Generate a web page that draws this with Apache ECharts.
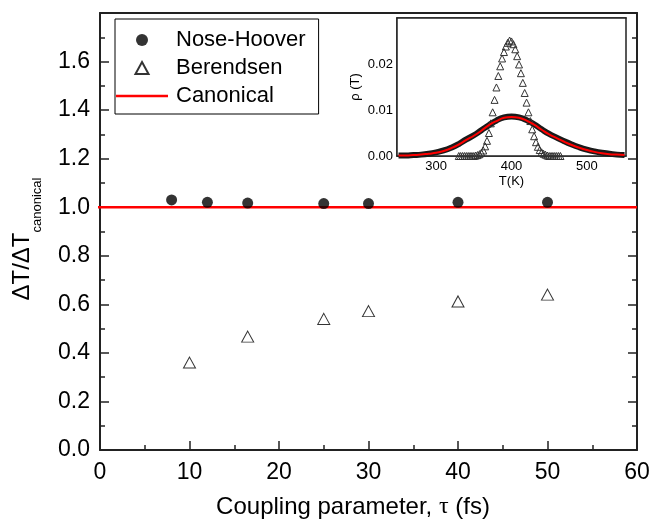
<!DOCTYPE html>
<html>
<head>
<meta charset="utf-8" />
<title>Coupling parameter</title>
<script src="https://cdn.jsdelivr.net/npm/echarts@6/dist/echarts.min.js"></script>
<style>
  html, body { margin: 0; padding: 0; background: #fff; }
  #main { width: 652px; height: 519px; }
</style>
</head>
<body>
<div id="main"></div>
<script>
// main panel: ratio of temperature fluctuation vs coupling time
var tauNH = [8, 12, 16.5, 25, 30, 40, 50];
var ratioNH = [1.03, 1.02, 1.017, 1.015, 1.015, 1.02, 1.02];
var tauBer = [10, 16.5, 25, 30, 40, 50];
var ratioBer = [0.36, 0.467, 0.54, 0.572, 0.612, 0.64];
var canonTau = [-1, 60];
var canonRatio = [1, 1];

// inset: temperature distributions
var tempK = [250, 260, 270, 280, 290, 300, 310, 320, 330, 340, 350, 360, 370, 380, 390, 400,
  410, 420, 430, 440, 450, 460, 470, 480, 490, 500, 510, 520, 530, 540, 550];
var rhoCanon = [0.0001, 0.0001, 0.0002, 0.0003, 0.0005, 0.0007, 0.0011, 0.0017, 0.0025, 0.0035,
  0.0044, 0.0055, 0.0067, 0.0076, 0.0083, 0.0085, 0.0083, 0.0077, 0.0068, 0.0057,
  0.0047, 0.0039, 0.0031, 0.0024, 0.0018, 0.0013, 0.0009, 0.0006, 0.0004, 0.0003, 0.0002];
var rhoNH = [0.0001, 0.0001, 0.0002, 0.0003, 0.0005, 0.0008, 0.0012, 0.0018, 0.0026, 0.0036,
  0.0045, 0.0056, 0.0067, 0.0077, 0.0084, 0.0086, 0.0084, 0.0078, 0.0069, 0.0058,
  0.0048, 0.0040, 0.0032, 0.0025, 0.0019, 0.0014, 0.0010, 0.0007, 0.0005, 0.0003, 0.0002];
var tempBer = [330, 332.5, 335, 337.5, 340, 342.5, 345, 347.5, 350, 352.5, 355, 357.5, 360,
  362.5, 365, 367.5, 370, 372.5, 375, 377.5, 380, 382.5, 385, 387.5, 390, 392.5, 395, 397.5,
  400, 402.5, 405, 407.5, 410, 412.5, 415, 417.5, 420, 422.5, 425, 427.5, 430, 432.5, 435,
  437.5, 440, 442.5, 445, 447.5, 450, 452.5, 455, 457.5, 460, 462.5, 465];
var rhoBer = [0, 0, 0, 0, 0, 0, 0, 0, 0, 0.0001, 0.0002, 0.0004, 0.0007,
  0.0012, 0.0021, 0.0033, 0.0050, 0.0071, 0.0095, 0.0122, 0.0149, 0.0174, 0.0195, 0.0212, 0.0226, 0.0238, 0.0246, 0.0251,
  0.0249, 0.0243, 0.0232, 0.0217, 0.0199, 0.0180, 0.0159, 0.0137, 0.0116, 0.0095, 0.0076, 0.0058, 0.0043, 0.0030, 0.0020,
  0.0013, 0.0008, 0.0005, 0.0003, 0.0001, 0, 0, 0, 0, 0, 0, 0];
var insetTicks = [300, 400, 500];

function zip(a, b) {
  return a.map(function (v, i) { return [v, b[i]]; });
}

var font = 'Liberation Sans, Arial, sans-serif';
var axisCol = '#222';

var myChart = echarts.init(document.getElementById('main'));
var option = {
  animation: false,
  backgroundColor: '#fff',
  textStyle: { fontFamily: font },
  grid: [
    { left: 100, right: 15, top: 13, bottom: 69, outerBoundsMode: 'none' },
    { left: 397, right: 26, top: 18, bottom: 363, outerBoundsMode: 'none', show: true,
      backgroundColor: '#fff', borderColor: axisCol, borderWidth: 1.5, z: 5 }
  ],
  legend: {
    data: [
      { name: 'Nose-Hoover', icon: 'circle' },
      { name: 'Berendsen', icon: 'path://M6,0L12,11L0,11Z' },
      { name: 'Canonical', icon: 'path://M0,0L52,0L52,2.5L0,2.5Z' }
    ],
    orient: 'vertical',
    left: 115,
    top: 19,
    itemWidth: 52,
    itemHeight: 12,
    itemGap: 6,
    symbolKeepAspect: true,
    padding: [10, 13, 7, 1],
    borderColor: '#000',
    borderWidth: 1,
    selectedMode: false,
    textStyle: { fontSize: 22, color: '#000', fontFamily: font, padding: [0, 0, 0, 3] }
  },
  xAxis: [
    {
      gridIndex: 0, type: 'value', min: 0, max: 60, interval: 10,
      name: 'Coupling parameter, {g|τ} (fs)',
      nameLocation: 'middle', nameGap: 45,
      nameTextStyle: { fontSize: 24, color: '#000', padding: [0, 31, 0, 0],
        rich: { g: { fontSize: 24, fontFamily: 'Liberation Serif, serif', color: '#000' } } },
      axisLine: { lineStyle: { color: axisCol, width: 2 } },
      axisTick: { inside: true, length: 9, lineStyle: { color: axisCol, width: 1.5 } },
      minorTick: { show: true, splitNumber: 2, length: 5, lineStyle: { color: axisCol, width: 1.5 } },
      axisLabel: { fontSize: 23, color: '#000', margin: 11 },
      splitLine: { show: false }
    },
    {
      gridIndex: 0, type: 'value', position: 'top', min: 0, max: 60,
      axisLine: { onZero: false, lineStyle: { color: axisCol, width: 2 } },
      axisTick: { show: false }, axisLabel: { show: false }, splitLine: { show: false }
    },
    {
      gridIndex: 1, type: 'value', min: 248, max: 552,
      name: 'T(K)', nameLocation: 'middle', nameGap: 19,
      nameTextStyle: { fontSize: 13, color: '#000' },
      axisLine: { lineStyle: { color: axisCol, width: 1.5 } },
      axisTick: { inside: true, length: 4, customValues: insetTicks, lineStyle: { color: axisCol } },
      axisLabel: { fontSize: 13, color: '#000', margin: 4, customValues: insetTicks },
      splitLine: { show: false }
    },
    {
      gridIndex: 1, type: 'value', position: 'top', min: 248, max: 552,
      axisLine: { onZero: false, lineStyle: { color: axisCol, width: 1.5 } },
      axisTick: { inside: true, length: 4, customValues: insetTicks, lineStyle: { color: axisCol } },
      axisLabel: { show: false }, splitLine: { show: false }
    }
  ],
  yAxis: [
    {
      gridIndex: 0, type: 'value', min: 0, max: 1.8, interval: 0.2,
      axisLine: { lineStyle: { color: axisCol, width: 2 } },
      axisTick: { inside: true, length: 9, lineStyle: { color: axisCol, width: 1.5 } },
      minorTick: { show: true, splitNumber: 2, length: 5, lineStyle: { color: axisCol, width: 1.5 } },
      axisLabel: { fontSize: 23, color: '#000', margin: 10,
        formatter: function (v) { return v > 1.7 ? '' : v.toFixed(1); } },
      splitLine: { show: false }
    },
    {
      gridIndex: 0, type: 'value', position: 'right', min: 0, max: 1.8, interval: 0.2,
      axisLine: { onZero: false, lineStyle: { color: axisCol, width: 2 } },
      axisTick: { inside: true, length: 9, lineStyle: { color: axisCol, width: 1.5 } },
      minorTick: { show: true, splitNumber: 2, length: 5, lineStyle: { color: axisCol, width: 1.5 } },
      axisLabel: { show: false }, splitLine: { show: false }
    },
    {
      gridIndex: 1, type: 'value', min: 0, max: 0.03, interval: 0.01,
      name: 'ρ (T)', nameLocation: 'middle', nameGap: 35, nameRotate: 90,
      nameTextStyle: { fontSize: 13, color: '#000' },
      axisLine: { lineStyle: { color: axisCol, width: 1.5 } },
      axisTick: { inside: true, length: 4, lineStyle: { color: axisCol } },
      axisLabel: { fontSize: 13, color: '#000', margin: 4,
        formatter: function (v) { return v > 0.025 ? '' : v.toFixed(2); } },
      splitLine: { show: false }
    }
  ],
  graphic: [
    { type: 'text', x: 22.5, y: 266.5, rotation: Math.PI / 2,
      style: { text: 'ΔT/ΔT', fontSize: 24, fontFamily: font, fill: '#000',
        align: 'center', verticalAlign: 'middle' } },
    { type: 'text', x: 37, y: 205, rotation: Math.PI / 2,
      style: { text: 'canonical', fontSize: 13, fontFamily: font, fill: '#000',
        align: 'center', verticalAlign: 'middle' } }
  ],
  series: [
    {
      name: 'Canonical', type: 'line', xAxisIndex: 0, yAxisIndex: 0,
      data: zip(canonTau, canonRatio), symbol: 'none', clip: false,
      lineStyle: { color: '#ff0000', width: 2.5 }, itemStyle: { color: '#ff0000' }, z: 3
    },
    {
      name: 'Nose-Hoover', type: 'scatter', xAxisIndex: 0, yAxisIndex: 0,
      data: zip(tauNH, ratioNH), symbol: 'circle', symbolSize: 11,
      itemStyle: { color: '#000' }, z: 4
    },
    {
      name: 'Berendsen', type: 'scatter', xAxisIndex: 0, yAxisIndex: 0,
      data: zip(tauBer, ratioBer), symbol: 'triangle', symbolSize: [12, 11],
      itemStyle: { color: '#fff', borderColor: '#000', borderWidth: 1 }, z: 4
    },
    {
      name: 'inset NH', type: 'line', xAxisIndex: 2, yAxisIndex: 2,
      data: zip(tempK, rhoNH), smooth: true, symbol: 'none',
      lineStyle: { color: '#1a1a1a', width: 6 }, z: 6
    },
    {
      name: 'inset Ber', type: 'line', xAxisIndex: 2, yAxisIndex: 2,
      data: zip(tempBer, rhoBer), symbol: 'triangle', symbolSize: 7, showSymbol: true,
      lineStyle: { width: 0 },
      itemStyle: { color: 'rgba(0,0,0,0)', borderColor: '#333', borderWidth: 1 }, z: 7
    },
    {
      name: 'inset canonical', type: 'line', xAxisIndex: 2, yAxisIndex: 2,
      data: zip(tempK, rhoCanon), smooth: true, symbol: 'none',
      lineStyle: { color: '#ff0000', width: 2 }, z: 8
    }
  ]
};
myChart.setOption(option);
</script>
</body>
</html>
